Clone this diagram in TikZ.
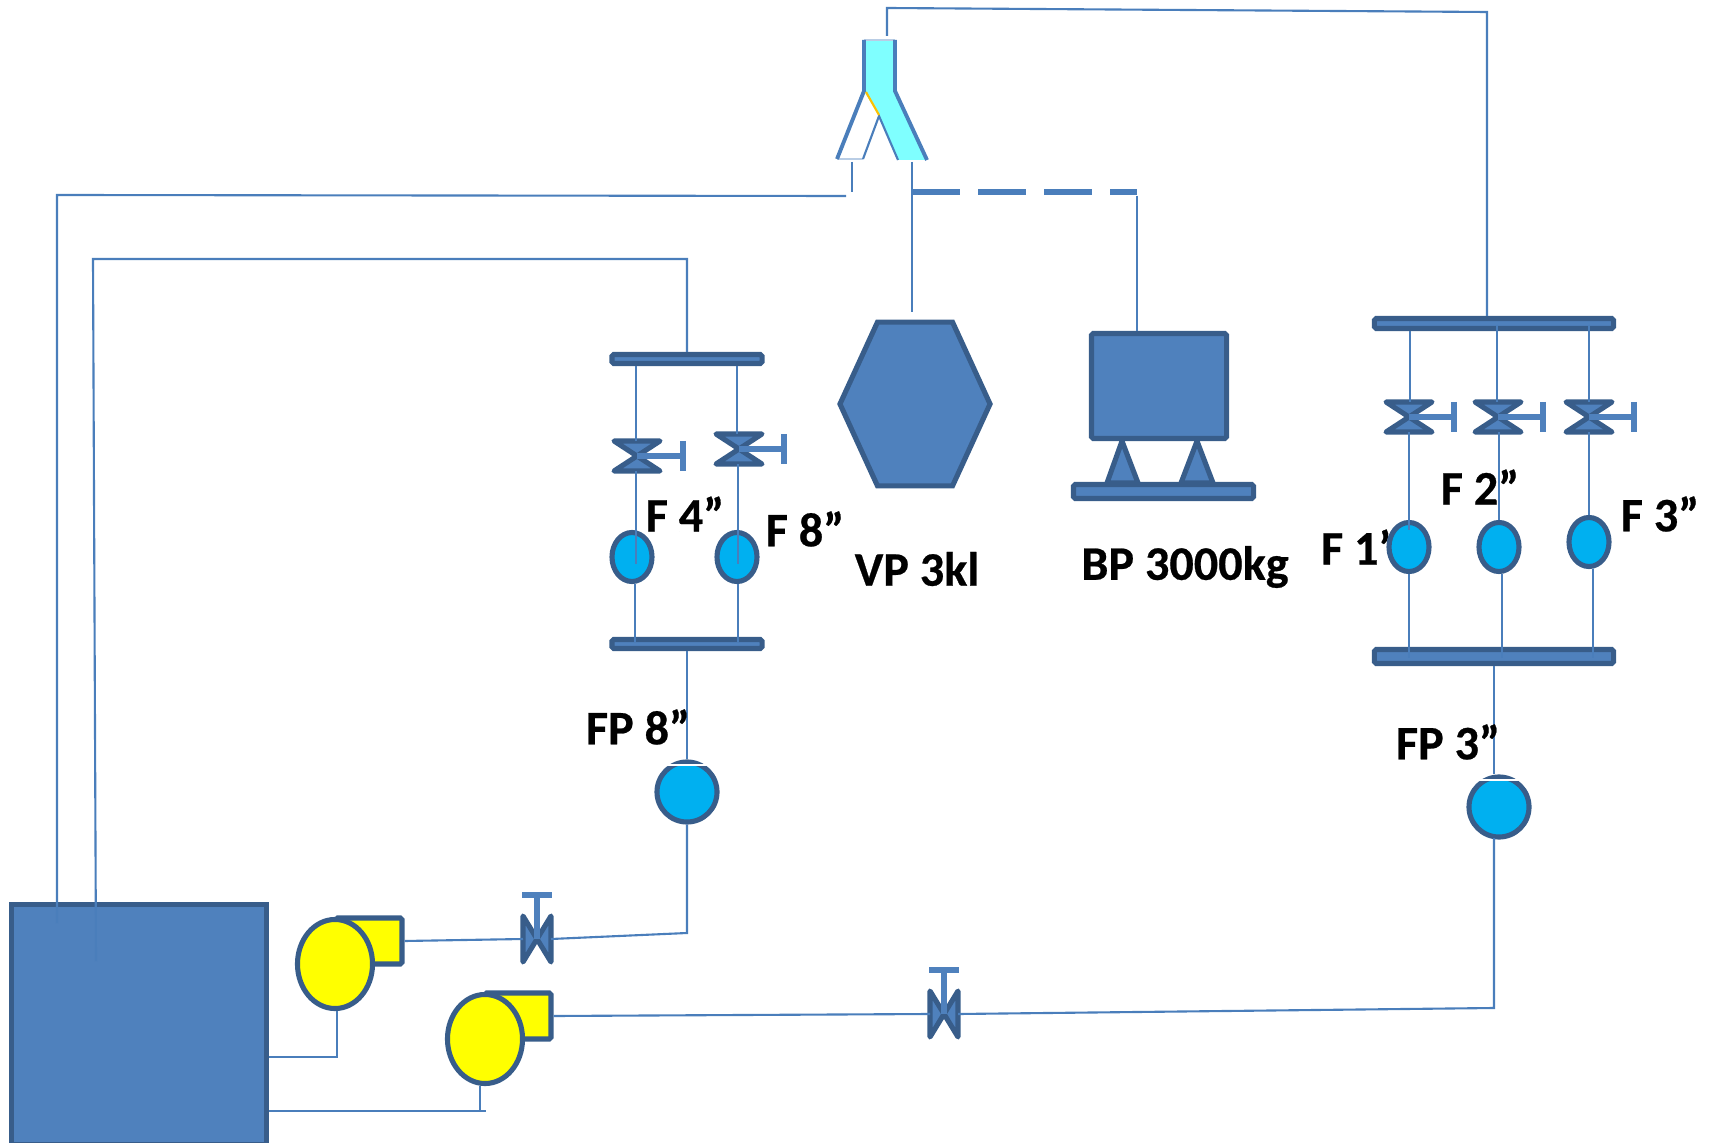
\documentclass[tikz,border=0pt]{standalone}
\usepackage{fontspec}
\setmainfont[BoldFeatures={FakeBold=0.5}]{Carlito}
\usepackage{tikz}
\usetikzlibrary{shapes.geometric, calc}
\definecolor{bluefill}{HTML}{4F81BD}
\definecolor{blueedge}{HTML}{385D8A}
\definecolor{pipeblue}{HTML}{4A7EBB}
\definecolor{meterblue}{HTML}{00B0F0}
\definecolor{splitcyan}{HTML}{7FFFFF}
\definecolor{splitorange}{HTML}{FFC000}
\definecolor{pumpyellow}{HTML}{FFFF00}
\begin{document}
\begin{tikzpicture}[
x=0.01cm, y=-0.01cm,
pipe/.style={draw=pipeblue, line width=0.6pt},
unit/.style={draw=blueedge, line width=1.45pt, fill=bluefill},
header/.style={unit, rectangle, rounded corners=0.5pt, inner sep=0pt, minimum width=2.39cm},
meter/.style={draw=blueedge, line width=1.45pt, fill=meterblue, ellipse, inner sep=0pt, minimum width=0.40cm, minimum height=0.49cm},
flowpump/.style={draw=blueedge, line width=1.45pt, fill=meterblue, circle, inner sep=0pt, minimum size=0.6cm},
motor/.style={draw=blueedge, line width=1.45pt, fill=pumpyellow, ellipse, inner sep=0pt, minimum width=0.75cm, minimum height=0.89cm},
volute/.style={draw=blueedge, line width=1.45pt, fill=pumpyellow, rectangle, rounded corners=0.5pt, inner sep=0pt, minimum width=0.66cm, minimum height=0.46cm},
label/.style={font=\bfseries\fontsize{13.7}{16}\selectfont, inner sep=0pt},
wheel/.style={draw=bluefill, line width=1.9pt},
vvalve/.pic={
  \draw[unit, line join=round] (-23,-15) -- (23,-15) -- (-23,15) -- (23,15) -- cycle;
  \coordinate (-t) at (0,-15);
  \coordinate (-b) at (0,15);
  \coordinate (-h) at (#1,0);
  \draw[wheel, line width=1.6pt] (0,0) -- (-h);
  \draw[wheel] (#1,-15) -- (#1,15);
},
hvalve/.pic={
  \draw[unit, line join=round] (-14,-23) -- (14,23) -- (14,-23) -- (-14,23) -- cycle;
  \coordinate (-l) at (-14,0);
  \coordinate (-r) at (14,0);
  \draw[wheel, line width=1.6pt] (0,0) -- (0,-44);
  \draw[wheel] (-15,-44) -- (15,-44);
}
]
\useasboundingbox (0,0) rectangle (1712,1143);

% tank and pumps
\node[unit, rectangle, inner sep=0pt, minimum width=2.55cm, minimum height=2.4cm, anchor=north west] (tank) at (8.5,902) {};
\node[volute] (voluteA) at (369,941) {};
\node[motor] (motorA) at (335,964) {};
\node[volute] (voluteB) at (518,1016) {};
\node[motor] (motorB) at (485,1039) {};

% valves on the pump lines
\pic (gateA) at (537,939) {hvalve};
\pic (gateB) at (944,1014) {hvalve};

% left bank
\node[header, minimum width=1.5cm, minimum height=0.09cm] (hdrAtop) at (687,359) {};
\node[header, minimum width=1.5cm, minimum height=0.09cm] (hdrAbot) at (687,644) {};
\pic (valveA) at (637,456) {vvalve=46};
\pic (valveB) at (739,449) {vvalve=45};
\node[meter] (fourin) at (632,557) {};
\node[meter] (eightin) at (737,557) {};
\node[flowpump] (fpeight) at (687,792) {};

% right bank
\node[header, minimum height=0.1cm] (hdrBtop) at (1494,323.5) {};
\node[header, minimum height=0.14cm] (hdrBbot) at (1494,656.5) {};
\pic (valveC) at (1409,417) {vvalve=45};
\pic (valveD) at (1498,417) {vvalve=45};
\pic (valveE) at (1589,417) {vvalve=45};
\node[label] (lblone) at (1356,547) {F 1’};
\node[meter] (onein) at (1409,547) {};
\node[meter] (twoin) at (1499,547) {};
\node[meter] (threein) at (1589,542) {};
\node[flowpump] (fpthree) at (1499,807) {};

% vessels
\node[unit, regular polygon, regular polygon sides=6, inner sep=0pt, minimum size=1.5cm, yscale=1.26, transform shape] (vp) at (915,404) {};
\node[unit, rectangle, rounded corners=0.5pt, inner sep=0pt, minimum width=1.35cm, minimum height=1.05cm] (bp) at (1159,386) {};
\draw[unit, line join=round] (bp.south -| 1122,0) -- (1138,483) -- (1107,483) -- cycle;
\draw[unit, line join=round] (bp.south -| 1197,0) -- (1213,483) -- (1181,483) -- cycle;
\node[unit, rectangle, rounded corners=0.5pt, inner sep=0pt, minimum width=1.8cm, minimum height=0.14cm] (bpbase) at (1163.5,491.5) {};

% splitter
\fill[white] (864,91) -- (837,159) -- (863,159) -- (879,116) -- cycle;
\fill[splitcyan] (864,40) -- (895,40) -- (895,91) -- (927,160) -- (898,160) -- (879,116) -- (864,91) -- cycle;
\draw[draw=bluefill!40, line width=0.5pt] (837,159) -- (863,159);
\draw[draw=bluefill!40, line width=0.5pt] (864,40) -- (895,40);
\draw[draw=pipeblue, line width=1.1pt] (864,40) -- (864,91) -- (837,159);
\draw[draw=pipeblue, line width=1.1pt] (895,40) -- (895,91) -- (927,160);
\draw[draw=pipeblue, line width=0.6pt] (863,159) -- (879,116) -- (898,160);
\draw[draw=splitorange, line width=0.6pt] (866,92) -- (879,115);
\coordinate (splitL) at (852,162);
\coordinate (splitR) at (912,162);
\coordinate (splitT) at (887,36);

% pipes
\coordinate (cornerA) at (887,8);
\coordinate (cornerB) at (1487,12);
\draw[pipe] (splitT) -- (cornerA) -- (cornerB) -- (cornerB |- hdrBtop.north);
\draw[pipe] (splitL) -- (852,192);
\draw[pipe] (846,196) -- (57,195) -- (57,923);
\draw[pipe] (hdrAtop.north) -- (687,259) -- (93,259) -- (96,961);
\draw[pipe] (splitR) -- (912,312);
\draw[draw=pipeblue, line width=1.7pt, dash pattern=on 0.48cm off 0.18cm] (912,192) -- (1137,192);
\draw[pipe] (1137,196) -- (bp.north -| 1137,0);
\draw[pipe] (voluteA.east) -- (gateA-l);
\draw[pipe] (gateA-r) -- (687,933) -- (fpeight.south);
\draw[pipe] (hdrAbot.south) -- (fpeight.north);
\draw[pipe] (voluteB.east) -- (gateB-l);
\draw[pipe] (gateB-r) -- (1494,1008) -- (1494,838);
\draw[pipe] (1494,666) -- (fpthree.north -| 1494,0);
\draw[pipe] (motorA.south -| 337,0) -- (337,1057) -- (tank.east |- 0,1057);
\draw[pipe] (motorB.south -| 480,0) -- (480,1111);
\draw[pipe] (tank.east |- 0,1111) -- (486,1111);
\draw[pipe] (636,366) -- (valveA-t -| 636,0);
\draw[pipe] (valveA-b -| 636,0) -- (636,564);
\draw[pipe] (fourin.south -| 635,0) -- (635,642);
\draw[pipe] (737,366) -- (valveB-t -| 737,0);
\draw[pipe] (valveB-b -| 738,0) -- (738,564);
\draw[pipe] (eightin.south -| 738,0) -- (738,642);
\draw[pipe] (1410,331) -- (valveC-t -| 1410,0);
\draw[pipe] (valveC-b) -- (1409,530);
\draw[pipe] (onein.south) -- (1409,658);
\draw[pipe] (1497,325) -- (valveD-t -| 1497,0);
\draw[pipe] (valveD-b -| twoin.north) -- (twoin.north);
\draw[pipe] (twoin.south -| 1502,0) -- (1502,658);
\draw[pipe] (1589,325) -- (valveE-t);
\draw[pipe] (valveE-b) -- (threein.north);
\draw[pipe] (threein.south -| 1593,0) -- (1593,658);

% gaps across the flow pumps
\draw[white, line width=0.4pt] (667,765) -- (707,765);
\draw[white, line width=0.4pt] (1479,780) -- (1519,780);

% labels
\node[label] (lblfour) at (685,514) {F 4”};
\node[label] (lbleight) at (805,529) {F 8”};
\node[label] (lblvp) at (917,569) {VP 3kl};
\node[label] (lblbp) at (1185,567) {BP 3000kg};
\node[label] (lblfpe) at (638,727) {FP 8”};
\node[label] (lblfpt) at (1448,742) {FP 3”};
\node[label] (lbltwo) at (1480,487) {F 2”};
\node[label] (lblthree) at (1660,514) {F 3”};
\end{tikzpicture}
\end{document}
